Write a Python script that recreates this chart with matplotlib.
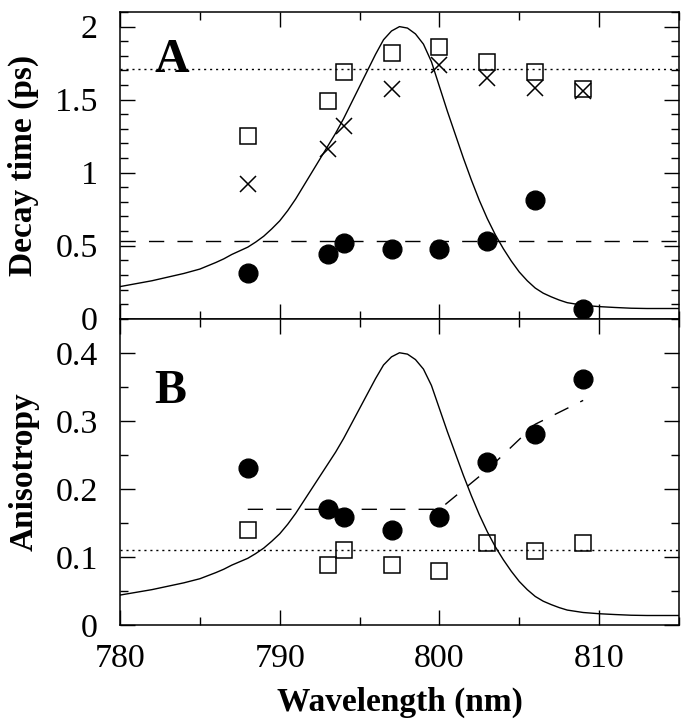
import numpy as np
import matplotlib
matplotlib.use('Agg')
import matplotlib.pyplot as plt
from matplotlib.ticker import MultipleLocator, FuncFormatter

plt.rcParams['font.family'] = ['Liberation Serif', 'DejaVu Serif']

# Excitation wavelengths (nm)
wl = [788, 793, 794, 797, 800, 803, 806, 809]

# Panel A: decay times (ps)
tau_square = [1.25, 1.49, 1.69, 1.82, 1.86, 1.76, 1.69, 1.57]
tau_cross = [0.92, 1.16, 1.32, 1.57, 1.74, 1.65, 1.58, 1.56]
tau_circle = [0.31, 0.44, 0.52, 0.48, 0.48, 0.53, 0.81, 0.07]
tau_dotted = 1.71
tau_dashed = 0.53

# Panel B: anisotropy
r_circle = [0.231, 0.171, 0.159, 0.140, 0.158, 0.239, 0.280, 0.361]
r_square = [0.139, 0.088, 0.110, 0.088, 0.079, 0.120, 0.109, 0.121]
r_dotted = 0.11
r_guide_wl = [788, 800, 803, 806, 809]
r_guide = [0.17, 0.17, 0.228, 0.295, 0.33]

# Absorption spectrum (arbitrary units, scaled to panel A)
spec_wl = [780, 781, 782, 783, 784, 785, 786, 786.5, 787, 787.5, 788, 788.5,
           789, 789.5, 790, 790.5, 791, 791.5, 792, 792.5, 793, 793.5, 794,
           794.5, 795, 795.5, 796, 796.5, 797, 797.5, 798, 798.5, 799, 799.5,
           800, 800.5, 801, 801.5, 802, 802.5, 803, 803.5, 804, 804.5, 805,
           805.5, 806, 806.5, 807, 807.5, 808, 809, 810, 811, 812, 813, 815]
spec_abs = [0.22, 0.24, 0.26, 0.285, 0.31, 0.34, 0.385, 0.41, 0.44, 0.465,
            0.49, 0.525, 0.565, 0.615, 0.67, 0.74, 0.82, 0.91, 1.00, 1.09,
            1.18, 1.27, 1.37, 1.48, 1.59, 1.70, 1.81, 1.91, 1.97, 2.0, 1.99,
            1.95, 1.88, 1.76, 1.59, 1.42, 1.26, 1.10, 0.95, 0.81, 0.685, 0.575,
            0.48, 0.395, 0.32, 0.26, 0.21, 0.175, 0.15, 0.128, 0.11, 0.092,
            0.083, 0.077, 0.072, 0.07, 0.07]
spec_scale_b = 0.2

fig = plt.figure(figsize=(6.88, 7.19), dpi=100)
ax1 = fig.add_axes([0.1744, 0.5567, 0.8125, 0.4266])
ax2 = fig.add_axes([0.1744, 0.1307, 0.8125, 0.4260])

dotted = (0, (1.5, 2.8))
dashed = (0, (11, 9.5))
fmt = FuncFormatter(lambda v, p: f'{v:g}')

# Panel A
ax1.plot(spec_wl, spec_abs, color='black', lw=1.0)
ax1.axhline(tau_dotted, color='black', lw=1.0, linestyle=dotted)
ax1.axhline(tau_dashed, color='black', lw=1.0, linestyle=dashed)
ax1.plot(wl, tau_square, 's', ms=11, mfc='none', mec='black', mew=1.1)
ax1.plot(wl, tau_cross, 'x', ms=11.5, mec='black', mew=1.1)
ax1.plot(wl, tau_circle, 'o', ms=13.5, color='black')
ax1.set_ylim(0, 2.1)
ax1.yaxis.set_major_locator(MultipleLocator(0.5))
ax1.yaxis.set_minor_locator(MultipleLocator(0.1))
ax1.text(0.062, 0.805, 'A', transform=ax1.transAxes, fontsize=34.5,
         fontweight='bold', va='baseline', ha='left')
ax1.set_ylabel('Decay time (ps)', fontsize=24, fontweight='bold', va='center')
ax1.yaxis.set_label_coords(-0.172, 0.5)
ax1.tick_params(labelbottom=False)

# Panel B
ax2.plot(spec_wl, np.array(spec_abs) * spec_scale_b, color='black', lw=1.0)
ax2.axhline(r_dotted, color='black', lw=1.0, linestyle=dotted)
ax2.plot(r_guide_wl, r_guide, color='black', lw=1.0, linestyle=dashed)
ax2.plot(wl, r_square, 's', ms=11, mfc='none', mec='black', mew=1.1)
ax2.plot(wl, r_circle, 'o', ms=13.5, color='black')
ax2.set_ylim(0, 0.45)
ax2.yaxis.set_major_locator(MultipleLocator(0.1))
ax2.yaxis.set_minor_locator(MultipleLocator(0.05))
ax2.text(0.062, 0.724, 'B', transform=ax2.transAxes, fontsize=34.5,
         fontweight='bold', va='baseline', ha='left')
ax2.set_ylabel('Anisotropy', fontsize=24, fontweight='bold', va='center')
ax2.yaxis.set_label_coords(-0.172, 0.5)
ax2.set_xlabel('Wavelength (nm)', fontsize=24, fontweight='bold')
ax2.xaxis.set_label_coords(0.5, -0.20)

for ax in (ax1, ax2):
    ax.set_xlim(780, 815)
    ax.xaxis.set_major_locator(MultipleLocator(10))
    ax.xaxis.set_minor_locator(MultipleLocator(5))
    ax.yaxis.set_major_formatter(fmt)
    ax.tick_params(which='both', direction='in', top=True, right=True, width=1.0)
    ax.tick_params(which='major', length=10.8)
    ax.tick_params(which='minor', length=5.8)
    ax.tick_params(axis='y', labelsize=24.5, pad=16)
    ax.tick_params(axis='x', labelsize=24.5, pad=13)
    for s in ax.spines.values():
        s.set_linewidth(1.1)

fig.savefig('out.png', dpi=100)
